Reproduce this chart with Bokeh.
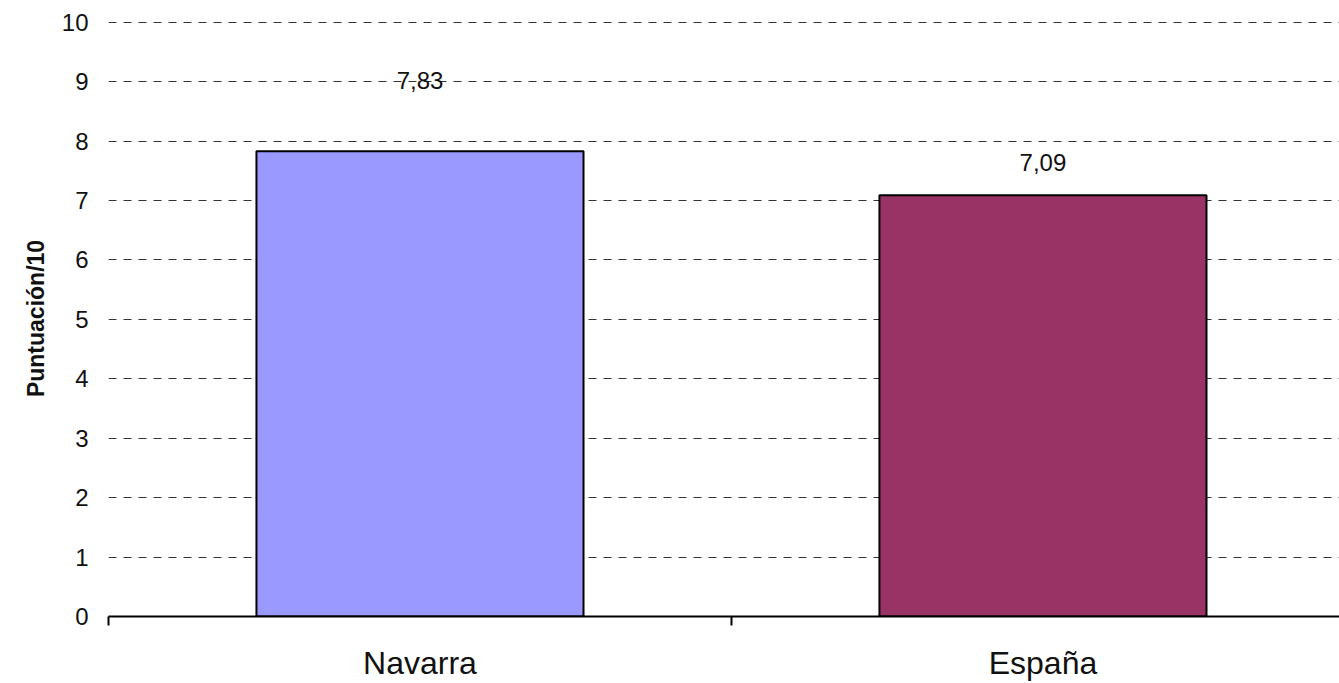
from bokeh.plotting import figure
from bokeh.models import ColumnDataSource, FixedTicker, Range1d, LabelSet
from bokeh.core.properties import value
from bokeh.embed import file_html
from bokeh.resources import INLINE

# ---- data ----
categories = ["Navarra", "España"]
scores = [7.83, 7.09]
score_labels = ["7,83", "7,09"]
bar_colors = ["#9999FF", "#993366"]
y_ticks = [0, 1, 2, 3, 4, 5, 6, 7, 8, 9, 10]

# ---- styling ----
label_offsets = [71, 33]  # pixel offset of value labels above bar tops
FONT = "Liberation Sans"
X_VISIBLE = 0.988  # fraction of the category span visible (frame cut at right edge)

xs = [i + 0.5 for i in range(len(categories))]
src = ColumnDataSource(dict(x=xs, top=scores, color=bar_colors,
                            lab=score_labels, off=label_offsets))

p = figure(width=1339, height=683, output_backend="svg", toolbar_location=None,
           x_range=Range1d(0, len(categories) * X_VISIBLE), y_range=Range1d(0, 10.03),
           min_border_left=108, min_border_right=0, min_border_top=20, min_border_bottom=66)
p.outline_line_color = None
p.background_fill_color = "white"

p.vbar(x="x", top="top", width=0.525, bottom=0, source=src,
       fill_color="color", line_color="black", line_width=2)

labels = LabelSet(x="x", y="top", text="lab", y_offset="off", source=src,
                  text_align="center", text_baseline="middle",
                  text_font=value(FONT), text_font_size="24px", text_color="#111111")
p.add_layout(labels)

# y axis
p.yaxis.ticker = FixedTicker(ticks=y_ticks)
p.yaxis.axis_line_color = None
p.yaxis.major_tick_line_color = None
p.yaxis.major_tick_out = 0
p.yaxis.minor_tick_line_color = None
p.yaxis.major_label_text_font = FONT
p.yaxis.major_label_text_font_size = "24px"
p.yaxis.major_label_text_color = "#111111"
p.yaxis.major_label_standoff = 20
p.yaxis.axis_label = "Puntuación/10"
p.yaxis.axis_label_text_font = FONT
p.yaxis.axis_label_text_font_size = "23px"
p.yaxis.axis_label_text_font_style = "bold"
p.yaxis.axis_label_text_color = "#111111"
p.yaxis.axis_label_standoff = 10

# x axis: labels at category centres, ticks at category boundaries
p.xaxis.ticker = FixedTicker(ticks=xs, minor_ticks=list(range(len(categories) + 1)))
p.xaxis.major_label_overrides = {x: c for x, c in zip(xs, categories)}
p.xaxis.major_tick_line_color = None
p.xaxis.major_tick_out = 0
p.xaxis.minor_tick_line_color = "black"
p.xaxis.minor_tick_line_width = 2
p.xaxis.minor_tick_out = 9
p.xaxis.minor_tick_in = 0
p.xaxis.axis_line_color = "black"
p.xaxis.axis_line_width = 2
p.xaxis.major_label_text_font = FONT
p.xaxis.major_label_text_font_size = "32px"
p.xaxis.major_label_text_color = "#111111"
p.xaxis.major_label_standoff = 19

# grid
p.xgrid.grid_line_color = None
p.ygrid.grid_line_color = "#333333"
p.ygrid.grid_line_dash = "8 7"
p.ygrid.grid_line_width = 1

open("out.html", "w").write(file_html(p, INLINE))
